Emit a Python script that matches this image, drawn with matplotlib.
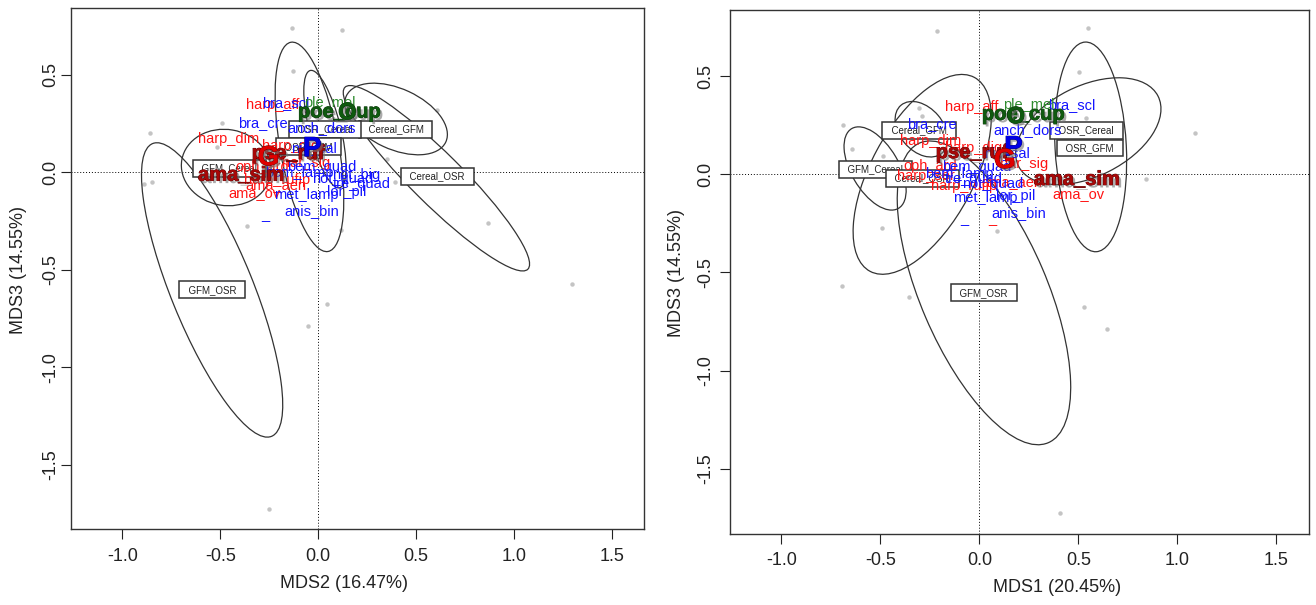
import matplotlib
matplotlib.use("Agg")
import matplotlib.pyplot as plt
import matplotlib.patheffects as pe
from matplotlib.patches import Ellipse

plt.rcParams['font.family'] = ['Liberation Sans', 'DejaVu Sans']

# ---- left panel: MDS2 vs MDS3 ----
l_site_x = [-0.134, 0.121, -0.129, 0.604, 0.350, 0.392, 0.867, -0.366, 0.117,
            -0.490, -0.858, -0.518, -0.891, -0.847, 0.043, -0.053, 1.293, -0.254]
l_site_y = [0.742, 0.728, 0.519, 0.318, 0.070, -0.050, -0.260, -0.277, -0.294,
            0.251, 0.200, 0.129, -0.063, -0.051, -0.678, -0.789, -0.572, -1.728]

groups = ['GFM_Cereal', 'GFM_OSR', 'Cereal_GFM', 'Cereal_OSR', 'OSR_Cereal', 'OSR_GFM']
l_lab_x = [-0.453, -0.542, 0.396, 0.607, 0.034, -0.050]
l_lab_y = [0.021, -0.603, 0.221, -0.020, 0.221, 0.130]
# ellipse centre, semi axes, rotation (deg)
l_ell_x = [-0.470, -0.542, 0.397, 0.603, 0.034, -0.045]
l_ell_y = [0.024, -0.604, 0.273, -0.031, 0.221, 0.130]
l_ell_a = [0.230, 0.810, 0.280, 0.660, 0.310, 0.545]
l_ell_b = [0.195, 0.210, 0.155, 0.130, 0.080, 0.150]
l_ell_ang = [-10, -68, -25, -45, 104, 100]

l_sp = ['harp_aff', 'harp_dim', 'ama_ov', 'ama_aen', 'harp_rufip', 'har_sig', 'harp_dig', 'oph_ard',
        'bra_scl', 'bra_cre', 'anch_dors', 'nic_sal', 'bem_quad', 'bem_lamp', 'not_big', 'not_quad',
        'tre_quad', 'met_lamp', 'lor_pil', 'anis_bin', '_', 'ple_mel']
l_sp_x = [-0.234, -0.460, -0.326, -0.214, -0.209, -0.061, -0.142, -0.285,
          -0.168, -0.285, 0.015, -0.020, 0.020, -0.097, 0.193, 0.122,
          0.224, -0.061, 0.146, -0.032, -0.270, 0.061]
l_sp_y = [0.344, 0.168, -0.109, -0.067, -0.041, 0.046, 0.133, 0.026,
          0.354, 0.251, 0.226, 0.123, 0.027, -0.005, -0.012, -0.036,
          -0.062, -0.118, -0.104, -0.200, -0.221, 0.354]
l_sp_grp = ['r'] * 8 + ['b'] * 13 + ['g']

# big labels, in drawing order
l_big = ['pse_ruf', 'ama_sim', 'poe_cup', 'O', 'P', 'G']
l_big_x = [-0.154, -0.394, 0.107, 0.148, -0.031, -0.254]
l_big_y = [0.096, -0.015, 0.309, 0.305, 0.118, 0.072]

# ---- right panel: MDS1 vs MDS3 ----
r_site_x = [-0.214, 0.547, 0.505, -0.307, -0.290, -0.688, -0.485, -0.646, 0.536,
            0.844, 0.090, -0.493, -0.693, -0.358, 0.527, 1.088, 0.647, 0.408]
r_site_y = [0.731, 0.748, 0.522, 0.340, 0.298, 0.252, 0.093, 0.131, 0.289,
            -0.022, -0.289, -0.272, -0.570, -0.624, -0.675, 0.210, -0.789, -1.725]

r_lab_x = [-0.525, 0.023, -0.305, -0.289, 0.539, 0.558]
r_lab_y = [0.026, -0.604, 0.225, -0.021, 0.225, 0.134]
r_ell_x = [-0.527, 0.023, -0.293, -0.289, 0.550, 0.562]
r_ell_y = [0.030, -0.604, 0.230, 0.000, 0.220, 0.140]
r_ell_a = [0.235, 0.830, 0.160, 0.560, 0.395, 0.535]
r_ell_b = [0.120, 0.320, 0.110, 0.260, 0.230, 0.180]
r_ell_ang = [-60, -67, -50, 62, 27, 93]

r_sp = ['harp_aff', 'harp_dim', 'harp_dig', 'har_sig', 'oph_ard', 'ama_ov', 'harp_rufip', 'ama_aen',
        'harp_ser', '_',
        'bra_scl', 'bra_cre', 'anch_dors', 'nic_sal', 'bem_quad', 'bem_lamp', 'not_quad', 'tre_quad',
        'met_lamp', 'lor_pil', 'anis_bin', '_', 'ple_mel']
r_sp_x = [-0.037, -0.246, -0.028, 0.226, -0.248, 0.500, -0.079, 0.165, -0.272, 0.065,
          0.464, -0.240, 0.243, 0.140, -0.013, -0.104, 0.069, -0.028, 0.031, 0.184, 0.200,
          -0.074, 0.251]
r_sp_y = [0.345, 0.170, 0.136, 0.051, 0.042, -0.098, -0.060, -0.041, -0.009, -0.226,
          0.352, 0.255, 0.224, 0.107, 0.036, 0.000, -0.051, -0.026, -0.119, -0.111, -0.195,
          -0.226, 0.352]
r_sp_grp = ['r'] * 10 + ['b'] * 12 + ['g']

r_big = ['pse_ruf', 'ama_sim', 'poe_cup', 'O', 'P', 'G']
r_big_x = [-0.037, 0.492, 0.221, 0.184, 0.172, 0.128]
r_big_y = [0.111, -0.026, 0.306, 0.294, 0.133, 0.068]

big_col = {'poe_cup': '#0f5a0f', 'O': '#0f5a0f', 'P': '#0000e6', 'pse_ruf': '#a80808',
           'G': '#e00000', 'ama_sim': '#a80808'}
big_edge = {'poe_cup': '#073007', 'O': '#073007', 'P': '#000070', 'pse_ruf': '#500000',
            'G': '#600000', 'ama_sim': '#500000'}
big_size = {'poe_cup': 14.5, 'O': 17, 'P': 20, 'pse_ruf': 14.5, 'G': 20, 'ama_sim': 14.5}
sp_col = {'r': '#ff1414', 'b': '#1414ff', 'g': '#2e8b2e'}


def panel(ax, sx, sy, lx, ly, ex, ey, ea, eb, eang, sp, spx, spy, spg, big, bx, by,
          xlab, xlab_pos, ylab_pos, ypad):
    ax.set_xlim(-1.26, 1.665)
    ax.set_ylim(-1.833, 0.84)
    ax.axhline(0, color='black', lw=0.7, ls=(0, (1, 2)), zorder=1)
    ax.axvline(0, color='black', lw=0.7, ls=(0, (1, 2)), zorder=1)
    ax.plot(sx, sy, 'o', ms=3.2, color='#c4c4c4', mec='none', zorder=2)
    for i in range(len(ex)):
        ax.add_patch(Ellipse((ex[i], ey[i]), 2 * ea[i], 2 * eb[i], angle=eang[i],
                             fill=False, ec='#333333', lw=0.9, zorder=3))
    for i, g in enumerate(groups):
        ax.text(lx[i], ly[i], '  ' + g + '  ', fontsize=7, ha='center', va='center', color='#222222',
                zorder=4, bbox=dict(boxstyle='square,pad=0.35', fc='white', ec='#333333', lw=1.1))
    for i in range(len(sp)):
        ax.text(spx[i], spy[i], sp[i], fontsize=10.5, ha='center', va='center',
                color=sp_col[spg[i]], zorder=5)
    for i in range(len(big)):
        ax.text(bx[i], by[i], big[i], fontsize=big_size[big[i]], fontweight='bold',
                ha='center', va='center', color=big_col[big[i]], zorder=6 + 0.1 * i,
                path_effects=[pe.SimplePatchShadow(offset=(1.8, -1.8), shadow_rgbFace='0.45', alpha=0.6),
                              pe.Stroke(linewidth=0.6, foreground=big_edge[big[i]]), pe.Normal()])
    ax.set_xticks([-1.0, -0.5, 0.0, 0.5, 1.0, 1.5])
    ax.set_xticklabels(['-1.0', '-0.5', '0.0', '0.5', '1.0', '1.5'])
    ax.set_yticks([-1.5, -1.0, -0.5, 0.0, 0.5])
    ax.set_yticklabels(['-1.5', '-1.0', '-0.5', '0.0', '0.5'], rotation=90, va='center')
    ax.tick_params(direction='out', length=7, width=0.8, labelsize=13, colors='#222222')
    ax.tick_params(axis='x', pad=6)
    ax.tick_params(axis='y', pad=ypad)
    ax.set_xlabel(xlab, fontsize=13, color='#222222', va='center')
    ax.xaxis.set_label_coords(*xlab_pos)
    ax.set_ylabel('MDS3 (14.55%)', fontsize=13, color='#222222', va='center')
    ax.yaxis.set_label_coords(*ylab_pos)
    for s in ax.spines.values():
        s.set_linewidth(1.0)
        s.set_color('#333333')


fig = plt.figure(figsize=(13.16, 6.05), dpi=100)
ax1 = fig.add_axes([0.0543, 0.1248, 0.4354, 0.8612])
ax2 = fig.add_axes([0.5547, 0.1174, 0.4400, 0.8668])

panel(ax1, l_site_x, l_site_y, l_lab_x, l_lab_y, l_ell_x, l_ell_y, l_ell_a, l_ell_b, l_ell_ang,
      l_sp, l_sp_x, l_sp_y, l_sp_grp, l_big, l_big_x, l_big_y, 'MDS2 (16.47%)',
      (0.4756, -0.1036), (-0.0916, 0.498), 1.5)
panel(ax2, r_site_x, r_site_y, r_lab_x, r_lab_y, r_ell_x, r_ell_y, r_ell_a, r_ell_b, r_ell_ang,
      r_sp, r_sp_x, r_sp_y, r_sp_grp, r_big, r_big_x, r_big_y, 'MDS1 (20.45%)',
      (0.565, -0.103), (-0.092, 0.498), 4.5)

fig.savefig('out.png', dpi=100)
